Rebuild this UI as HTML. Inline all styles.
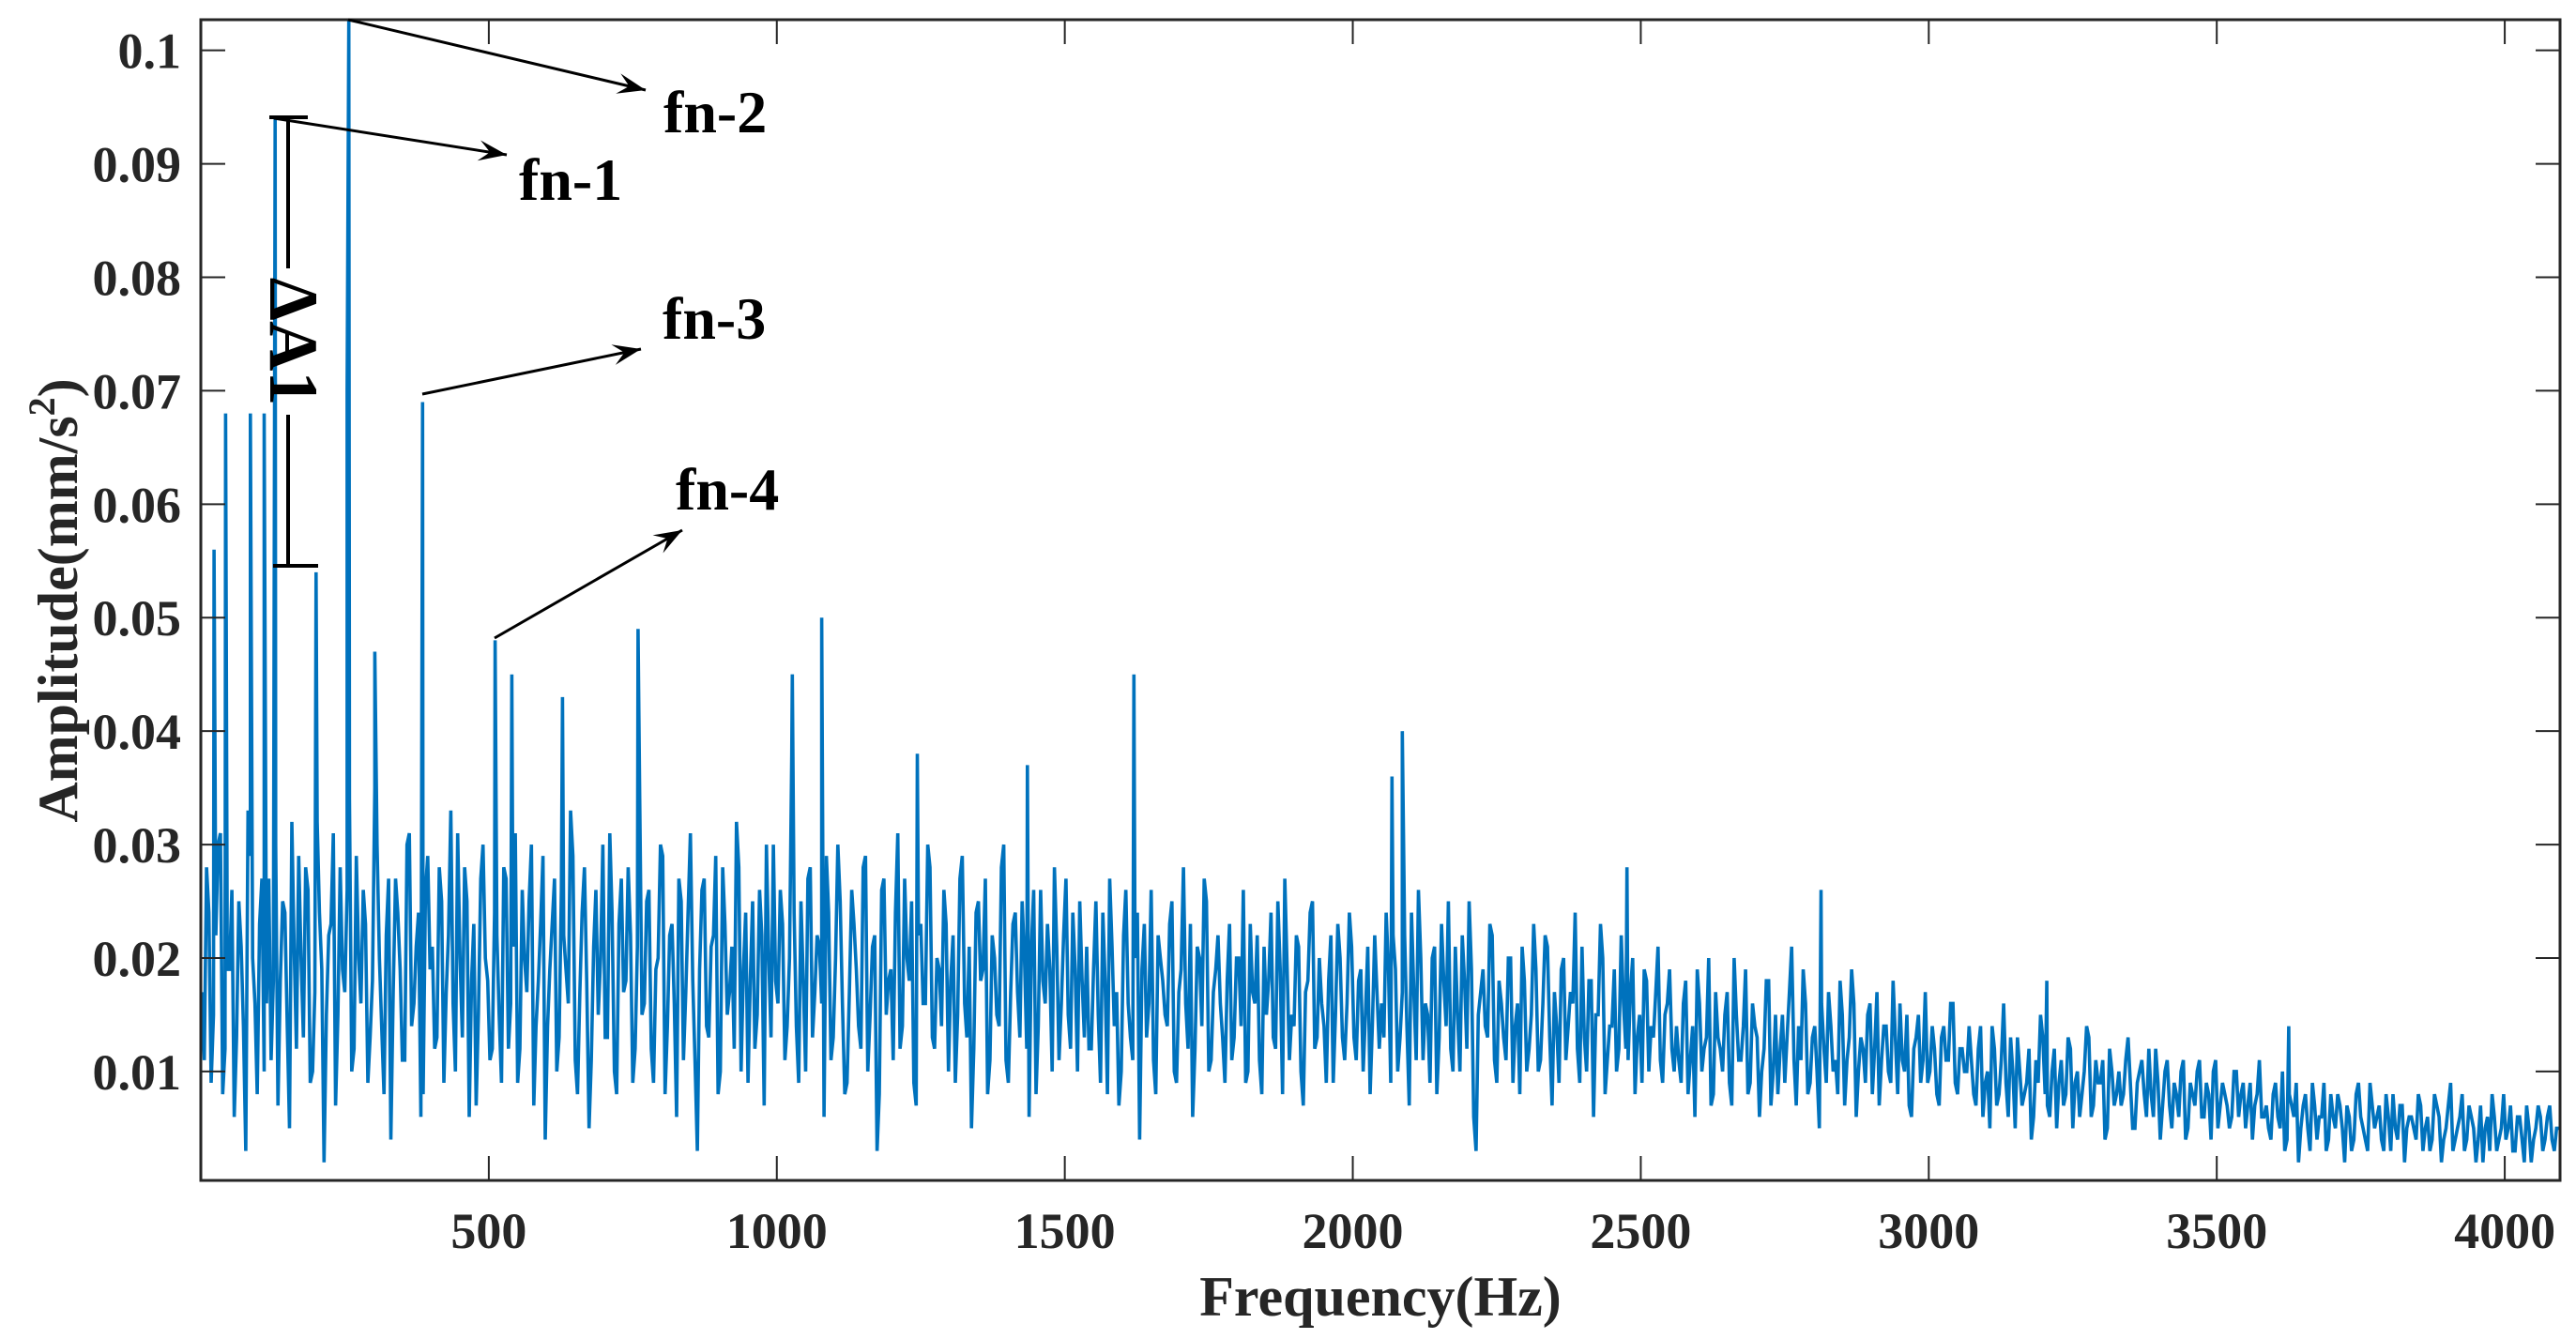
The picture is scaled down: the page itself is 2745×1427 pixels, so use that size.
<!DOCTYPE html>
<html><head><meta charset="utf-8">
<style>
html,body{margin:0;padding:0;background:#fff;}
svg{display:block;}
text{font-family:"Liberation Serif",serif;font-weight:bold;fill:#262626;}
</style></head>
<body>
<svg id="chart" width="2745" height="1427" viewBox="0 0 2745 1427" xmlns="http://www.w3.org/2000/svg">
<g id="plot"></g>
<g id="axes"></g>
<g id="annot"></g>
</svg>
<script>
const xTicks = [500,1000,1500,2000,2500,3000,3500,4000];
const yTicks = [0.01,0.02,0.03,0.04,0.05,0.06,0.07,0.08,0.09,0.1];
const yTickLabels = ["0.01","0.02","0.03","0.04","0.05","0.06","0.07","0.08","0.09","0.1"];
const binHz = 8;
const baseAmp = [
17,28,9,22,31,12,19,6,25,14,33,20,8,27,16,11,30,18,24,5,21,29,13,26,10,32,19,15,23,7,28,17,
34,12,20,26,9,18,30,14,22,4,27,19,11,31,16,24,8,29,21,13,25,17,33,10,20,28,6,23,15,30,18,12,
22,9,27,16,31,12,20,25,7,18,29,14,23,10,26,19,33,11,17,28,5,21,15,30,13,24,8,27,18,22,12,34,
16,26,9,20,29,14,23,6,25,17,31,11,19,27,13,22,8,28,15,21,32,10,24,18,12,26,7,20,30,16,23,14,
38,14,25,10,28,17,21,6,24,13,30,16,9,26,19,12,29,15,22,8,27,18,11,31,14,20,25,7,23,16,28,12,
19,26,10,22,15,29,13,5,24,18,27,11,20,14,30,9,23,17,25,12,21,8,26,16,19,28,11,22,15,24,10,18,
21,12,25,9,18,27,14,7,22,16,11,24,19,13,26,8,20,15,23,10,17,28,12,6,21,14,25,11,19,16,9,23,
13,20,26,10,17,22,8,15,24,12,19,27,11,14,21,7,18,25,13,16,9,22,15,20,11,24,13,18,10,21,14,17,
16,24,9,19,13,22,7,17,26,11,15,20,8,23,14,12,21,10,18,25,6,15,19,13,22,9,16,11,20,14,8,18,
12,23,10,16,21,7,14,19,11,17,24,9,13,18,6,15,20,11,14,10,22,12,17,8,15,19,10,13,21,9,16,12,
14,9,18,11,6,16,12,20,8,13,10,17,7,15,11,19,9,14,6,12,18,10,8,15,13,21,7,11,16,9,14,5,
12,17,10,8,15,11,19,6,13,9,16,12,7,14,10,18,8,11,15,6,13,9,17,10,12,7,14,11,16,8,12,10,
11,7,14,9,5,12,8,16,6,10,13,7,9,4,11,15,8,6,12,9,7,13,5,10,8,14,6,11,9,4,12,7,
10,8,13,5,9,11,6,8,12,4,10,7,9,6,11,5,8,10,6,9,4,11,7,8,5,10,6,9,7,4,8,6,
7,4,9,5,3,8,6,2,7,5,9,4,6,3,8,5,7,2,6,4,9,5,3,7,6,4,8,3,5,7,2,6,
5,8,3,6,4,7,2,5,9,4,6,3,7,5,4,2,6,8,3,5,4,7,3,6,2,5,4,7,3,6,4,5
];
const baseAmp2 = [
11,24,15,30,8,19,26,13,21,3,29,16,23,10,27,18,7,25,14,32,12,20,28,9,17,24,2,22,31,15,19,26,
10,29,16,23,13,35,20,8,27,17,24,11,30,14,21,6,26,19,12,28,9,22,16,31,13,25,18,7,27,20,11,24,
15,28,12,21,9,26,17,30,14,23,4,19,27,13,22,16,29,8,24,18,11,26,20,13,31,10,23,17,28,9,21,15,
25,12,19,30,8,22,16,27,11,24,18,3,26,14,21,29,10,23,17,12,28,19,9,25,15,22,30,13,18,26,11,20,
24,9,18,27,13,22,16,29,11,20,25,8,17,23,14,28,10,21,3,26,15,19,24,12,27,18,9,22,16,30,13,20,
14,23,18,9,27,16,21,12,25,19,8,22,15,28,11,17,24,13,20,6,26,14,18,23,10,21,16,27,12,19,25,13,
12,19,15,24,8,21,17,10,26,13,20,4,23,16,11,22,18,14,25,9,19,16,23,12,20,27,10,17,22,13,18,11,
20,14,9,23,16,11,21,18,13,25,8,19,15,22,10,17,24,12,20,14,18,9,23,13,16,21,11,19,15,8,22,12,
13,19,22,10,17,14,24,11,20,16,9,21,13,18,25,10,15,22,12,19,3,17,14,23,11,18,13,20,9,16,21,10,
15,19,11,22,13,17,9,20,14,16,12,21,10,18,15,23,8,14,19,12,16,11,20,13,9,18,14,17,11,15,19,10,
11,16,8,14,19,10,13,7,17,12,15,9,20,11,14,8,16,13,10,18,7,15,12,9,17,11,14,19,8,13,10,16,
9,14,11,18,7,13,16,10,12,15,8,17,11,14,9,13,16,10,7,12,15,11,9,14,8,13,11,16,9,12,10,14,
8,12,6,10,14,7,11,9,13,5,10,8,12,6,9,13,7,10,5,11,8,12,9,6,10,13,7,9,11,5,10,8,
7,11,9,5,10,8,12,6,9,7,11,5,8,10,4,9,7,11,6,8,10,5,9,7,6,10,8,5,9,7,11,6,
5,8,6,10,4,7,9,5,8,3,7,6,9,4,6,8,5,7,3,8,6,4,9,5,7,3,6,8,4,7,5,6,
4,7,5,3,8,6,4,7,3,5,8,4,6,2,7,5,3,6,4,8,5,3,6,4,7,2,5,6,4,7,3,5
];
const peakFreq = [23,43,86,110,129,200,254,257,302,385,511,540,628,759,1027,1078,1244,1435,1620,2068,2086,2476,2813,3205,3625];
const peakAmp = [0.056,0.068,0.068,0.068,0.094,0.054,0.070,0.1027,0.047,0.069,0.048,0.045,0.043,0.049,0.045,0.050,0.038,0.037,0.045,0.036,0.040,0.028,0.026,0.018,0.014];

const X0=214, X1=2728, Y0=1258, Y1=21;
const xMin=0, xMax=4096, yMin=0.0004, yMax=0.1027;
function sx(v){return X0+(v-xMin)/(xMax-xMin)*(X1-X0);}
function sy(v){return Y0-(v-yMin)/(yMax-yMin)*(Y0-Y1);}
const NS="http://www.w3.org/2000/svg";
function mk(tag,attrs,parent){const e=document.createElementNS(NS,tag);for(const k in attrs)e.setAttribute(k,attrs[k]);parent.appendChild(e);return e;}

const pts=[];
baseAmp.forEach((a,i)=>pts.push([i*binHz+2,a/1000]));
baseAmp2.forEach((a,i)=>pts.push([i*binHz+6,a/1000]));
peakFreq.forEach((f,i)=>pts.push([f,peakAmp[i]]));
pts.sort((a,b)=>a[0]-b[0]);
const plot=document.getElementById('plot');
const line=mk('polyline',{points:pts.map(p=>sx(p[0]).toFixed(1)+','+sy(p[1]).toFixed(1)).join(' '),fill:'none',stroke:'#0072BD','stroke-width':'3.6','stroke-linejoin':'miter','stroke-miterlimit':'2'},plot);



const ax=document.getElementById('axes');
const box=mk('rect',{x:X0,y:Y1,width:X1-X0,height:Y0-Y1,fill:'none',stroke:'#262626','stroke-width':'3'},ax);


xTicks.forEach(v=>{
  const x=sx(v);
  const t1=mk('line',{x1:x,y1:Y0,x2:x,y2:Y0-26,stroke:'#262626','stroke-width':'2'},ax);
  
  
  const t2=mk('line',{x1:x,y1:Y1,x2:x,y2:Y1+26,stroke:'#262626','stroke-width':'2'},ax);
  
  
  const lb=mk('text',{x:x,y:1330,'font-size':'54','text-anchor':'middle'},ax);
  lb.textContent=v;
  
  
});
yTicks.forEach((v,i)=>{
  const y=sy(v);
  const t1=mk('line',{x1:X0,y1:y,x2:X0+26,y2:y,stroke:'#262626','stroke-width':'2'},ax);
  
  
  const t2=mk('line',{x1:X1,y1:y,x2:X1-26,y2:y,stroke:'#262626','stroke-width':'2'},ax);
  
  
  const lb=mk('text',{x:193,y:y+19,'font-size':'54','text-anchor':'end'},ax);
  lb.textContent=yTickLabels[i];
  
  
});
const xt=mk('text',{x:1471,y:1402,'font-size':'60','text-anchor':'middle'},ax);
xt.textContent='Frequency(Hz)';


const yt=mk('text',{x:0,y:0,'font-size':'60','text-anchor':'middle',transform:'translate(82,640) rotate(-90)'},ax);
yt.innerHTML='Amplitude(mm/s<tspan dy="-24" font-size="40">2</tspan><tspan dy="24">)</tspan>';



const an=document.getElementById('annot');
function arrow(x1,y1,x2,y2,name){
  const g=mk('g',{},an);
  
  
  mk('line',{x1:x1,y1:y1,x2:x2,y2:y2,stroke:'#000','stroke-width':'3'},g);
  const a=Math.atan2(y2-y1,x2-x1),L=30,W=11;
  const bx=x2-L*Math.cos(a),by=y2-L*Math.sin(a);
  const p=[[x2,y2],[bx+W*Math.sin(a),by-W*Math.cos(a)],[x2-18*Math.cos(a),y2-18*Math.sin(a)],[bx-W*Math.sin(a),by+W*Math.cos(a)]];
  mk('polygon',{points:p.map(q=>q.join(',')).join(' '),fill:'#000'},g);
}
arrow(371,21,688,96,'fn-2-arrow');
arrow(292,126,540,165,'fn-1-arrow');
arrow(450,420,683,372,'fn-3-arrow');
arrow(527,680,727,565,'fn-4-arrow');
function label(x,y,s,name){
  const t=mk('text',{x:x,y:y,'font-size':'64',fill:'#000'},an);
  t.textContent=s;
  t.style.fill='#000';
  
  
}
label(707,141,'fn-2','fn-2-label');
label(553,213,'fn-1','fn-1-label');
label(706,361,'fn-3','fn-3-label');
label(720,543,'fn-4','fn-4-label');
const dg=mk('g',{},an);


mk('line',{x1:287,y1:125,x2:328,y2:125,stroke:'#000','stroke-width':'4'},dg);
mk('line',{x1:291,y1:603,x2:339,y2:603,stroke:'#000','stroke-width':'4'},dg);
mk('line',{x1:307,y1:125,x2:307,y2:286,stroke:'#000','stroke-width':'4'},dg);
mk('line',{x1:307,y1:442,x2:307,y2:603,stroke:'#000','stroke-width':'4'},dg);
const dt=mk('text',{x:0,y:0,'font-size':'74','text-anchor':'middle',transform:'translate(288,364) rotate(90)'},an);
dt.textContent='ΔA1';
dt.style.fill='#000';


</script>
</body></html>
